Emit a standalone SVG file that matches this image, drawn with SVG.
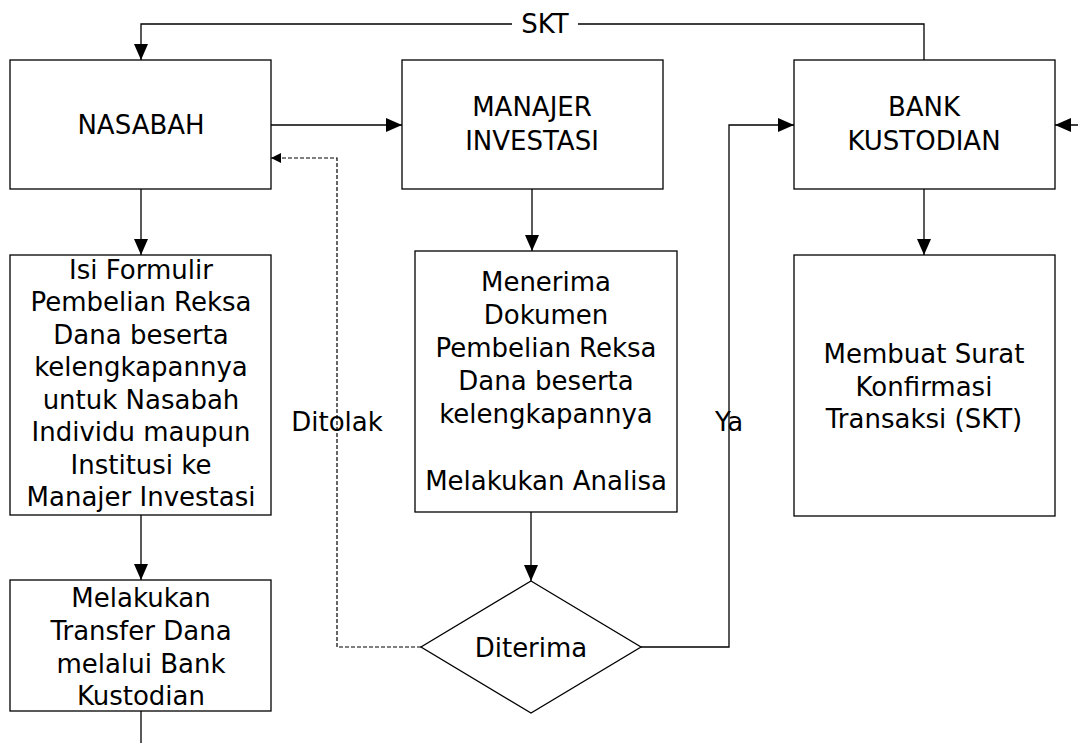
<svg xmlns="http://www.w3.org/2000/svg" width="1078" height="743" viewBox="0 0 1078 743">
<defs>
<marker id="arr" viewBox="0 0 16 14" refX="16" refY="7" markerWidth="16" markerHeight="14" markerUnits="userSpaceOnUse" orient="auto"><path d="M0,0 L16,7 L0,14 Z" fill="#000"/></marker>
<marker id="arrs" viewBox="0 0 10 10" refX="10" refY="5" markerWidth="10" markerHeight="10" markerUnits="userSpaceOnUse" orient="auto"><path d="M0,0 L10,5 L0,10 Z" fill="#000"/></marker>
</defs>
<style>
.box{fill:#fff;stroke:#000;stroke-width:1.3}
.ln{fill:none;stroke:#000;stroke-width:1.3}
.dash{fill:none;stroke:#000;stroke-width:1.2;stroke-dasharray:4,2}
text{font-family:"DejaVu Sans",sans-serif;font-size:26px;text-anchor:middle;dominant-baseline:central;fill:#000}
.sm{font-size:24px}
</style>
<rect width="1078" height="743" fill="#fff"/>
<g id="connectors">
<polyline class="ln" points="924,60 924,24 141,24 141,60" marker-end="url(#arr)"/>
<rect x="512" y="8" width="66" height="32" fill="#fff"/>
<text x="545" y="24">SKT</text>
<line class="ln" x1="271" y1="125" x2="402" y2="125" marker-end="url(#arr)"/>
<polyline class="dash" points="421,647 337,647 337,158 271,158" marker-end="url(#arrs)"/>
<polyline class="ln" points="641,647 729,647 729,125 794,125" marker-end="url(#arr)"/>
<line class="ln" x1="1095" y1="125" x2="1055" y2="125" marker-end="url(#arr)"/>
<line class="ln" x1="141" y1="189" x2="141" y2="255" marker-end="url(#arr)"/>
<line class="ln" x1="141" y1="515" x2="141" y2="580" marker-end="url(#arr)"/>
<line class="ln" x1="141" y1="711" x2="141" y2="743"/>
<line class="ln" x1="532" y1="189" x2="532" y2="251" marker-end="url(#arr)"/>
<line class="ln" x1="531" y1="512" x2="531" y2="581" marker-end="url(#arr)"/>
<line class="ln" x1="924" y1="189" x2="924" y2="255" marker-end="url(#arr)"/>
<text x="337" y="422">Ditolak</text>
<text x="729" y="422">Ya</text>
</g>
<g id="nasabah"><rect class="box" x="10" y="60" width="261" height="129"/><text x="141" y="125">NASABAH</text></g>
<g id="manajer"><rect class="box" x="402" y="60" width="261" height="129"/><text x="532" y="107">MANAJER</text><text x="532" y="141">INVESTASI</text></g>
<g id="bank"><rect class="box" x="794" y="60" width="261" height="129"/><text x="924" y="107">BANK</text><text x="924" y="141">KUSTODIAN</text></g>
<g id="formulir"><rect class="box" x="10" y="255" width="261" height="260"/>
<text x="141" y="270">Isi Formulir</text><text x="141" y="302">Pembelian Reksa</text><text x="141" y="335">Dana beserta</text><text x="141" y="367">kelengkapannya</text><text x="141" y="400">untuk Nasabah</text><text x="141" y="432">Individu maupun</text><text x="141" y="465">Institusi ke</text><text x="141" y="497">Manajer Investasi</text></g>
<g id="transfer"><rect class="box" x="10" y="580" width="261" height="131"/>
<text x="141" y="598">Melakukan</text><text x="141" y="631">Transfer Dana</text><text x="141" y="664">melalui Bank</text><text x="141" y="696">Kustodian</text></g>
<g id="menerima"><rect class="box" x="415" y="251" width="262" height="261"/>
<text x="546" y="282">Menerima</text><text x="546" y="315">Dokumen</text><text x="546" y="348">Pembelian Reksa</text><text x="546" y="381">Dana beserta</text><text x="546" y="414">kelengkapannya</text><text x="546" y="481">Melakukan Analisa</text></g>
<g id="skt"><rect class="box" x="794" y="255" width="261" height="261"/>
<text x="924" y="354">Membuat Surat</text><text x="924" y="387">Konfirmasi</text><text x="924" y="419">Transaksi (SKT)</text></g>
<g id="diterima"><polygon class="box" points="531,581 641,647 531,713 421,647"/><text x="531" y="648">Diterima</text></g>
</svg>
